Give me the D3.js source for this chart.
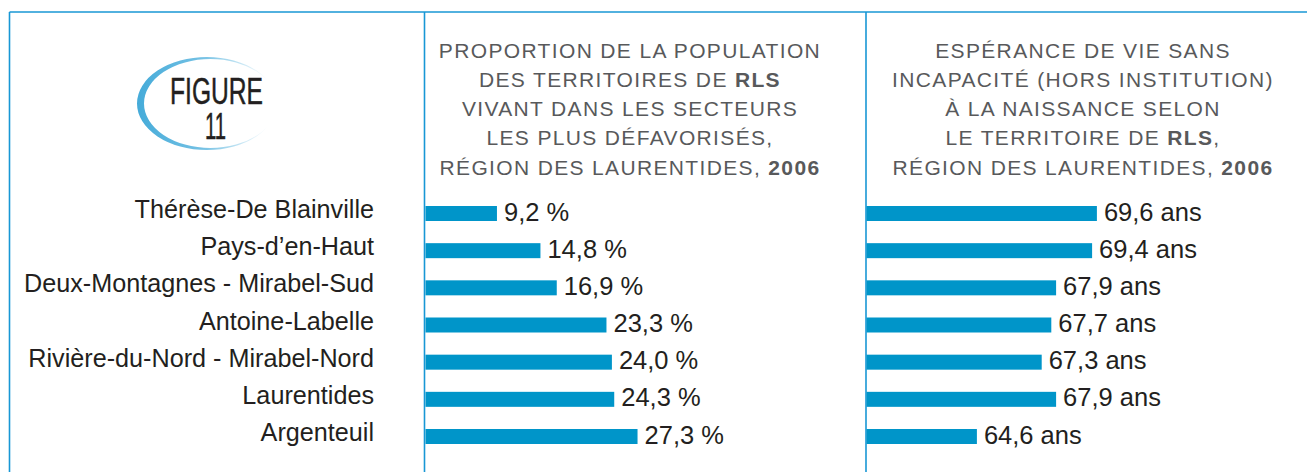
<!DOCTYPE html>
<html>
<head>
<meta charset="utf-8">
<script src="https://cdn.jsdelivr.net/npm/d3@7"></script>
<style>
    body { margin: 0; background: #fff; }
    text { font-family: "Liberation Sans", Arial, Helvetica, sans-serif; }
</style>
</head>
<body>
<div id="chart"></div>
<script>
// territoires de RLS, dans l'ordre du tableau
const categories = [
    "Thérèse-De Blainville",
    "Pays-d’en-Haut",
    "Deux-Montagnes - Mirabel-Sud",
    "Antoine-Labelle",
    "Rivière-du-Nord - Mirabel-Nord",
    "Laurentides",
    "Argenteuil"
]
const defavorises = [9.2, 14.8, 16.9, 23.3, 24.0, 24.3, 27.3]
const esperance = [69.6, 69.4, 67.9, 67.7, 67.3, 67.9, 64.6]

// titres, segments [texte, gras]
const title1 = [
    [["PROPORTION DE LA POPULATION", false]],
    [["DES TERRITOIRES DE ", false], ["RLS", true]],
    [["VIVANT DANS LES SECTEURS", false]],
    [["LES PLUS DÉFAVORISÉS,", false]],
    [["RÉGION DES LAURENTIDES, ", false], ["2006", true]]
]
const title2 = [
    [["ESPÉRANCE DE VIE SANS", false]],
    [["INCAPACITÉ (HORS INSTITUTION)", false]],
    [["À LA NAISSANCE SELON", false]],
    [["LE TERRITOIRE DE ", false], ["RLS", true], [",", false]],
    [["RÉGION DES LAURENTIDES, ", false], ["2006", true]]
]

const fmt = v => d3.format(".1f")(v).replace(".", ",")

const W = 1307, H = 472
const blue = "#1897d5"
const barColor = "#0095c9"

const svg = d3.select("#chart").append("svg")
    .attr("width", W)
    .attr("height", H)

// cadre
const frame = svg.append("g").attr("stroke", blue).attr("stroke-width", 1.6)
frame.append("line").attr("x1", 9.5).attr("x2", W).attr("y1", 12).attr("y2", 12)
;[9.5, 424.5, 866].forEach(x => {
    frame.append("line").attr("x1", x).attr("x2", x).attr("y1", 12).attr("y2", H)
})

// pastille "FIGURE 11"
const grad = svg.append("defs").append("linearGradient")
    .attr("id", "fig-grad")
    .attr("gradientUnits", "userSpaceOnUse")
    .attr("x1", 137).attr("x2", 268).attr("y1", 0).attr("y2", 0)
grad.append("stop").attr("offset", "0%").attr("stop-color", "#45abd9")
grad.append("stop").attr("offset", "50%").attr("stop-color", "#74c1e4")
grad.append("stop").attr("offset", "100%").attr("stop-color", "#ffffff")

const ell = (cx, cy, rx, ry) =>
    `M${cx - rx},${cy} a${rx},${ry} 0 1,0 ${2 * rx},0 a${rx},${ry} 0 1,0 ${-2 * rx},0 Z`
svg.append("path")
    .attr("d", ell(207, 103.5, 70, 46.5) + ell(210.5, 103.5, 66.5, 44.5))
    .attr("fill", "url(#fig-grad)")
    .attr("fill-rule", "evenodd")

const badge = svg.append("text")
    .attr("fill", "#231f20")
    .attr("stroke", "#231f20")
    .attr("stroke-width", 0.5)
    .attr("font-size", 37)
    .style("font-family", "'Liberation Sans Narrow', 'Liberation Sans', sans-serif")
badge.append("tspan")
    .attr("x", 170).attr("y", 103.5)
    .attr("textLength", 93).attr("lengthAdjust", "spacingAndGlyphs")
    .text("FIGURE")
badge.append("tspan")
    .attr("x", 205).attr("y", 138.5)
    .attr("textLength", 21).attr("lengthAdjust", "spacingAndGlyphs")
    .text("11")

// titres
function drawTitle(lines, cx) {
    const t = svg.append("text")
        .attr("text-anchor", "middle")
        .attr("fill", "#58595b")
        .attr("font-size", 21)
        .attr("letter-spacing", 1.35)
    lines.forEach((segs, i) => {
        const line = t.append("tspan").attr("x", cx).attr("y", 57.5 + i * 29.25)
        segs.forEach(([txt, b]) => {
            line.append("tspan").attr("font-weight", b ? "bold" : null).text(txt)
        })
    })
}
drawTitle(title1, 630)
drawTitle(title2, 1083)

// échelles
const y = d3.scalePoint()
    .domain(categories)
    .range([213.5, 436.5])
const barH = 15

const x1 = d3.scaleLinear().domain([0, 30]).range([425.5, 425.5 + 233])
const x2 = d3.scaleLinear().domain([60, 70]).range([866.5, 866.5 + 240])

// étiquettes des catégories
svg.append("g").selectAll("text")
    .data(categories)
    .enter().append("text")
    .attr("x", 374)
    .attr("y", d => y(d) + 4.5)
    .attr("text-anchor", "end")
    .attr("font-size", 25.2)
    .attr("fill", "#231f20")
    .text(d => d)

function drawBars(values, x, unit) {
    const g = svg.append("g")
    const rows = categories.map((c, i) => ({ c: c, v: values[i] }))
    g.selectAll("rect")
        .data(rows)
        .enter().append("rect")
        .attr("x", x.range()[0])
        .attr("y", d => y(d.c) - barH / 2)
        .attr("width", d => x(d.v) - x.range()[0])
        .attr("height", barH)
        .attr("fill", barColor)
    g.selectAll("text")
        .data(rows)
        .enter().append("text")
        .attr("x", d => x(d.v) + 7)
        .attr("y", d => y(d.c) + 7)
        .attr("font-size", 25.5)
        .attr("fill", "#231f20")
        .text(d => fmt(d.v) + " " + unit)
}
drawBars(defavorises, x1, "%")
drawBars(esperance, x2, "ans")
</script>
</body>
</html>
